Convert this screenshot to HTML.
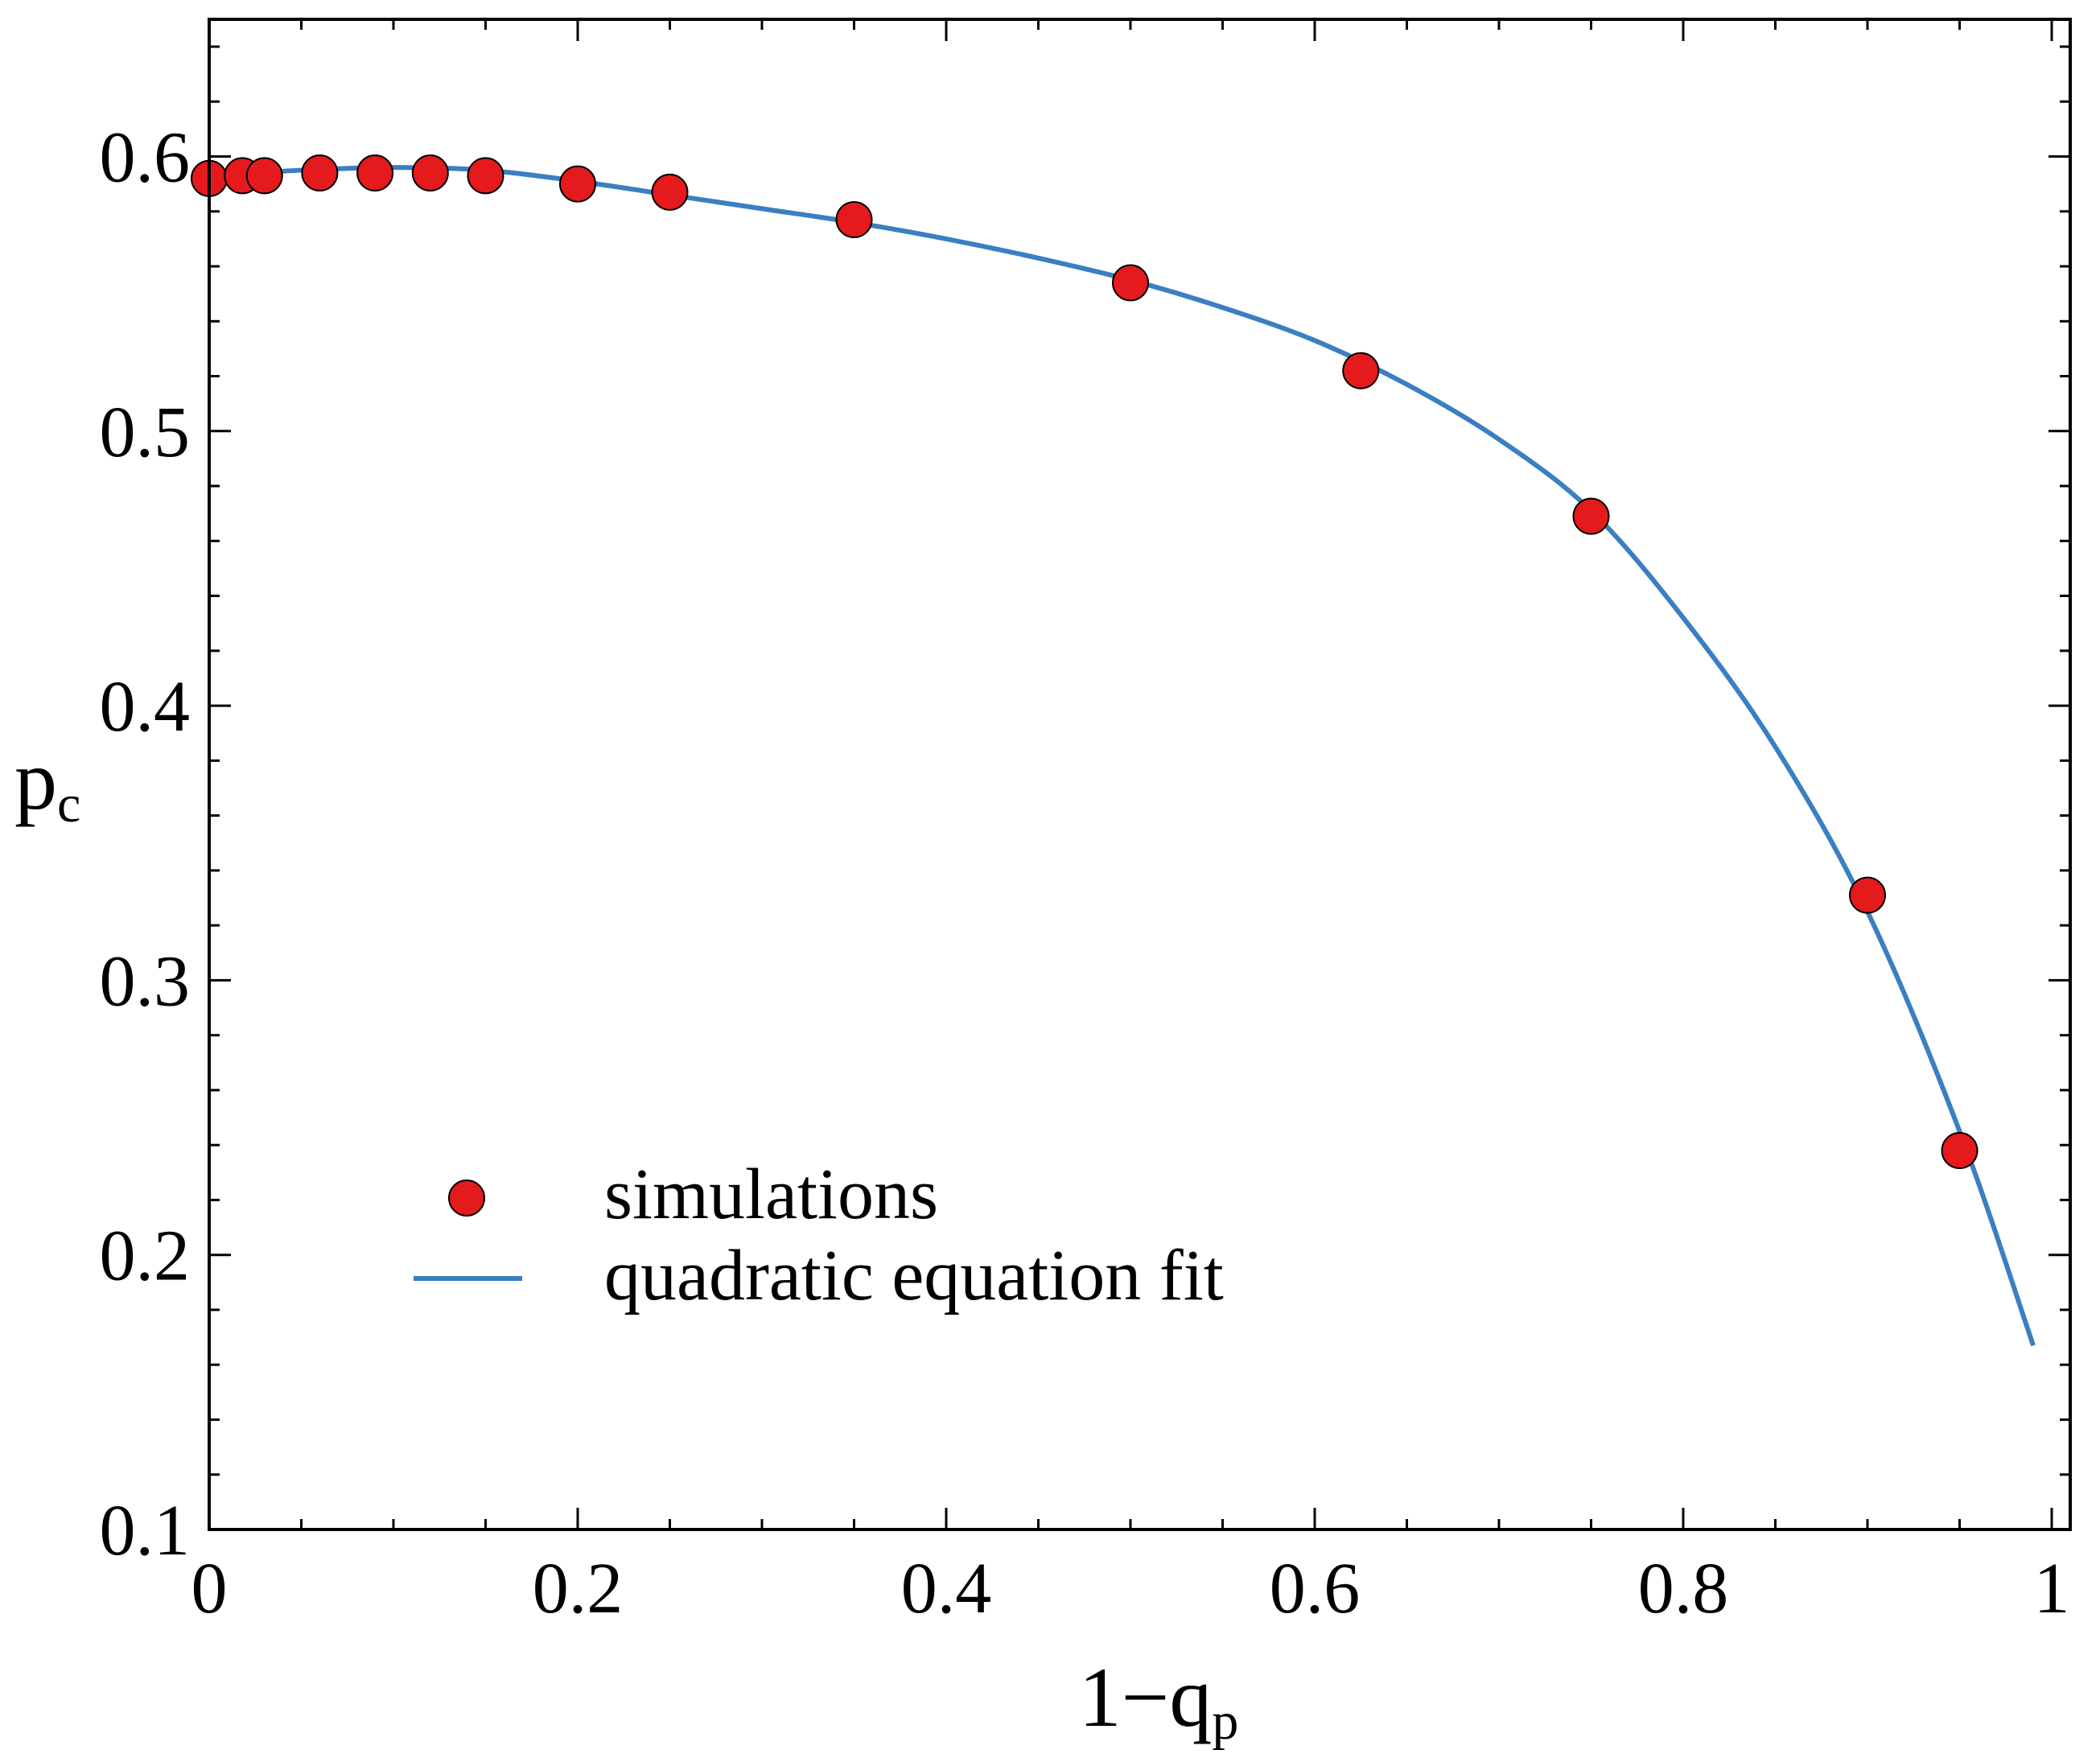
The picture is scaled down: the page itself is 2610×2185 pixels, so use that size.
<!DOCTYPE html>
<html><head><meta charset="utf-8"><style>
html,body{margin:0;padding:0;background:#fff;}
svg{display:block;font-family:"Liberation Serif",serif;}
</style></head><body>
<svg id="chart" width="2610" height="2185" viewBox="0 0 2610 2185" xmlns="http://www.w3.org/2000/svg">
<g id="ticks"></g>
<g id="fit"></g>
<g id="pts"></g>
<rect x="260" y="24" width="2313" height="1877" fill="none" stroke="#000" stroke-width="4"/>
<g id="labels" font-size="90" fill="#000"></g>
<text x="1440" y="2145" font-size="106" text-anchor="middle">1−q<tspan font-size="66" dy="16">p</tspan></text>
<text x="18" y="1005" font-size="106">p<tspan font-size="66" dy="16">c</tspan></text>
<g>
<circle cx="580" cy="1489" r="22" fill="#e41a1c" stroke="#000" stroke-width="2"/>
<text x="751" y="1514" font-size="90">simulations</text>
<line x1="514" y1="1589" x2="649" y2="1589" stroke="#3a7fc1" stroke-width="6"/>
<text x="751" y="1615" font-size="90">quadratic equation fit</text>
</g>
</svg>
<script>
const simX = [0, 0.018, 0.03, 0.06, 0.09, 0.12, 0.15, 0.2, 0.25, 0.35, 0.5, 0.625, 0.75, 0.9, 0.95];
const simY = [0.592, 0.593, 0.593, 0.594, 0.594, 0.594, 0.593, 0.590, 0.587, 0.577, 0.554, 0.522, 0.469, 0.331, 0.238];
const fitX = [0, 0.05, 0.1, 0.15, 0.2, 0.25, 0.3, 0.35, 0.4, 0.45, 0.5, 0.55, 0.6, 0.65, 0.7, 0.75, 0.8, 0.85, 0.9, 0.95, 0.99];
const fitY = [0.593, 0.595, 0.596, 0.595, 0.591, 0.586, 0.581, 0.576, 0.570, 0.563, 0.555, 0.545, 0.533, 0.517, 0.497, 0.471, 0.432, 0.385, 0.325, 0.245, 0.167];
const xTicks = ["0", "0.2", "0.4", "0.6", "0.8", "1"];
const yTicks = ["0.1", "0.2", "0.3", "0.4", "0.5", "0.6"];
const NS = "http://www.w3.org/2000/svg";
const X0 = 260, XR = 2290, Y0 = 1901, YR = 3413;
function sx(v){ return X0 + v * XR; }
function sy(v){ return Y0 - (v - 0.1) * YR; }
function mk(tag, attrs, parent){ const e = document.createElementNS(NS, tag); for (const k in attrs) e.setAttribute(k, attrs[k]); parent.appendChild(e); return e; }
const tg = document.getElementById('ticks');
for (let i = 0; i <= 20; i++) {
  const v = i * 0.05, x = sx(v), len = (i % 4 === 0) ? 27 : 13;
  const a = mk('line', {x1:x, y1:Y0, x2:x, y2:Y0-len, stroke:'#000', 'stroke-width':3}, tg);
  
  
  const b = mk('line', {x1:x, y1:24, x2:x, y2:24+len, stroke:'#000', 'stroke-width':3}, tg);
  
  
}
for (let i = 0; i <= 27; i++) {
  const v = 0.1 + i * 0.02, y = sy(v), len = (i % 5 === 0) ? 27 : 13;
  if (y < 24) continue;
  const a = mk('line', {x1:X0, y1:y, x2:X0+len, y2:y, stroke:'#000', 'stroke-width':3}, tg);
  
  
  const b = mk('line', {x1:2573, y1:y, x2:2573-len, y2:y, stroke:'#000', 'stroke-width':3}, tg);
  
  
}
const lg = document.getElementById('labels');
xTicks.forEach(t => {
  const e = mk('text', {x:sx(parseFloat(t)), y:2004, 'text-anchor':'middle'}, lg);
  
  
  e.textContent = t;
});
yTicks.forEach(t => {
  const e = mk('text', {x:236, y:sy(parseFloat(t)) + 31, 'text-anchor':'end'}, lg);
  
  
  e.textContent = t;
});
let d = '';
for (let i = 0; i < fitX.length; i++) {
  const x = sx(fitX[i]), y = sy(fitY[i]);
  if (i === 0) { d += 'M' + x + ',' + y; }
  else {
    const x0 = sx(fitX[i-1]), y0 = sy(fitY[i-1]);
    const xp = i > 1 ? sx(fitX[i-2]) : x0, yp = i > 1 ? sy(fitY[i-2]) : y0;
    const xn = i < fitX.length-1 ? sx(fitX[i+1]) : x, yn = i < fitX.length-1 ? sy(fitY[i+1]) : y;
    d += ' C' + (x0 + (x - xp)/6) + ',' + (y0 + (y - yp)/6) + ' ' + (x - (xn - x0)/6) + ',' + (y - (yn - y0)/6) + ' ' + x + ',' + y;
  }
}
const fl = mk('path', {d:d, fill:'none', stroke:'#3a7fc1', 'stroke-width':6}, document.getElementById('fit'));


const pg = document.getElementById('pts');
for (let i = 0; i < simX.length; i++) {
  const c = mk('circle', {cx:sx(simX[i]), cy:sy(simY[i]), r:22, fill:'#e41a1c', stroke:'#000', 'stroke-width':2}, pg);
  
  
}
</script>
</body></html>
